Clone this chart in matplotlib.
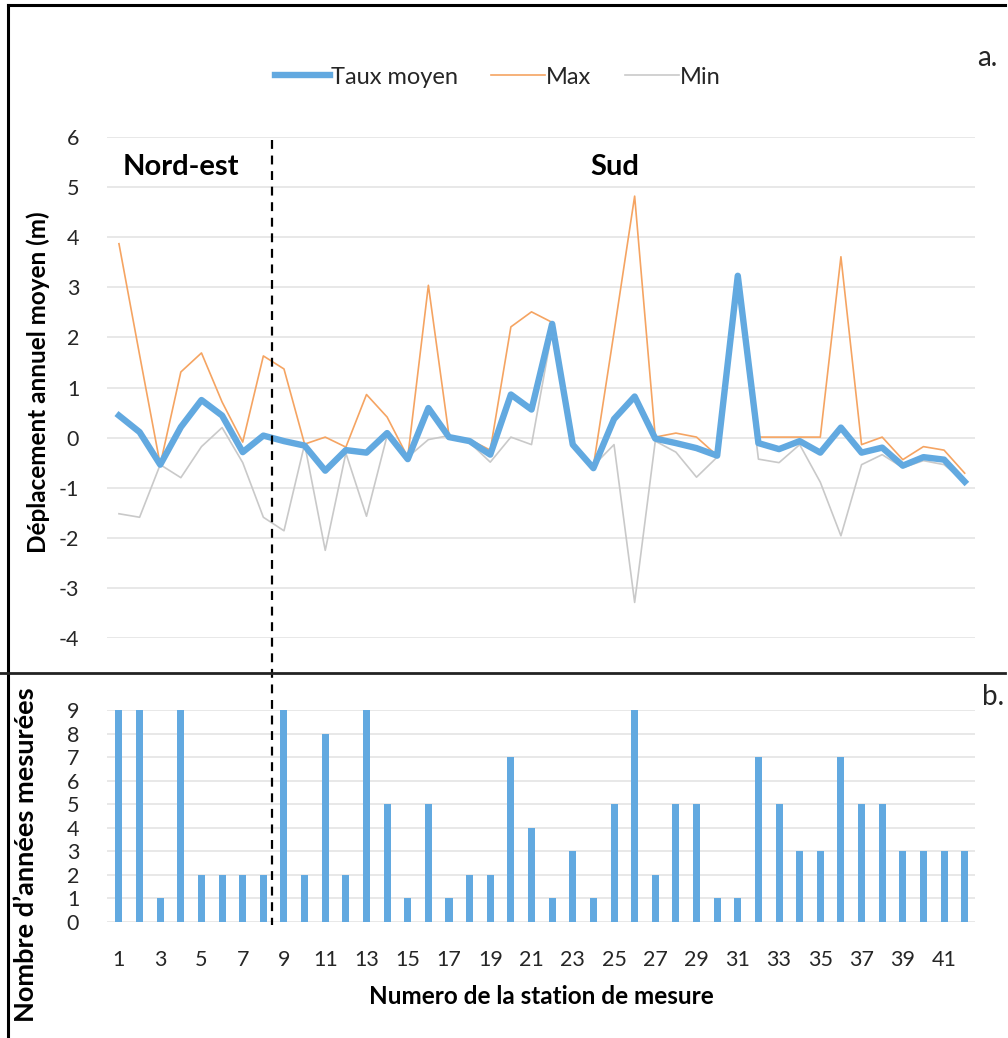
import numpy as np
import matplotlib
matplotlib.use("Agg")
import matplotlib.pyplot as plt
from matplotlib.lines import Line2D
import matplotlib.transforms as mtransforms

plt.rcParams['font.family'] = ['Lato', 'DejaVu Sans']
plt.rcParams['axes.unicode_minus'] = False

# station numbers
stations = np.arange(1, 43)

# mean annual displacement (m)
taux_moyen = [0.44, 0.11, -0.54, 0.21, 0.75, 0.44, -0.29, 0.04, -0.07, -0.16,
              -0.66, -0.25, -0.30, 0.09, -0.43, 0.59, 0.01, -0.07, -0.34, 0.86,
              0.56, 2.27, -0.14, -0.61, 0.37, 0.82, -0.02, -0.11, -0.21, -0.36,
              3.23, -0.11, -0.23, -0.07, -0.30, 0.20, -0.30, -0.20, -0.56, -0.39,
              -0.44, -0.88]
val_max = [3.87, 1.65, -0.54, 1.31, 1.69, 0.71, -0.09, 1.63, 1.37, -0.13,
           0.01, -0.19, 0.86, 0.41, -0.39, 3.04, 0.04, -0.04, -0.25, 2.21,
           2.51, 2.30, -0.11, -0.57, 2.10, 4.82, 0.01, 0.09, 0.01, -0.36,
           3.23, 0.01, 0.01, 0.01, 0.01, 3.61, -0.14, 0.01, -0.44, -0.18,
           -0.25, -0.71]
val_min = [-1.52, -1.59, -0.54, -0.80, -0.18, 0.20, -0.50, -1.59, -1.86, -0.13,
           -2.25, -0.31, -1.57, 0.04, -0.39, -0.04, 0.04, -0.10, -0.49, 0.01,
           -0.14, 2.14, -0.18, -0.56, -0.14, -3.29, -0.07, -0.29, -0.79, -0.39,
           3.00, -0.43, -0.50, -0.14, -0.89, -1.96, -0.54, -0.34, -0.60, -0.46,
           -0.54, -0.88]

# number of years measured
nb_annees = [9, 9, 1, 9, 2, 2, 2, 2, 9, 2, 8, 2, 9, 5, 1, 5, 1, 2, 2, 7,
             4, 1, 3, 1, 5, 9, 2, 5, 5, 1, 1, 7, 5, 3, 3, 7, 5, 5, 3, 3,
             3, 3]

xticks_lbl = np.arange(1, 42, 2)
limite_zone = 8.43

W, H = 1008, 1038
fig = plt.figure(figsize=(W / 100, H / 100), dpi=100)

blue = '#62a9e0'
orange = '#f5a462'
grey = '#c9c9c9'
gridc = '#e4e4e4'
txtc = '#262626'

# ---- top panel
ax1 = fig.add_axes([107 / W, 1 - 638 / H, 868 / W, (638 - 137) / H])
ax1.plot(stations, val_max, color=orange, lw=1.2, label='Max', zorder=3)
ax1.plot(stations, val_min, color=grey, lw=1.2, label='Min', zorder=2)
ax1.plot(stations, taux_moyen, color=blue, lw=4.6, label='Taux moyen',
         solid_joinstyle='round', zorder=4)
ax1.set_xlim(0.42, 42.5)
ax1.set_ylim(-4, 6)
ax1.set_yticks(np.arange(-4, 7, 1))
ax1.set_xticks([])
ax1.yaxis.grid(True, color=gridc, lw=1.2)
ax1.set_axisbelow(True)
for s in ax1.spines.values():
    s.set_visible(False)
ax1.tick_params(axis='y', length=0, labelsize=15.5, pad=20, labelcolor=txtc)
ax1.set_ylabel('Déplacement annuel moyen (m)', fontsize=17.5, fontweight='bold')
ax1.yaxis.set_label_coords(-0.066, 0.51)
ax1.text(1.2, 5.4, 'Nord-est', fontsize=21, fontweight='bold', va='center')
ax1.text(25.05, 5.4, 'Sud', fontsize=21, fontweight='bold', va='center',
         ha='center')

# ---- bottom panel
ax2 = fig.add_axes([107 / W, 1 - 922 / H, 868 / W, (922 - 710) / H])
ax2.bar(stations, nb_annees, width=0.34, color=blue, zorder=3)
ax2.set_xlim(0.42, 42.5)
ax2.set_ylim(0, 9)
ax2.set_yticks(np.arange(0, 10, 1))
ax2.set_xticks(xticks_lbl)
ax2.yaxis.grid(True, color=gridc, lw=1.2)
ax2.set_axisbelow(True)
for s in ax2.spines.values():
    s.set_visible(False)
ax2.tick_params(axis='y', length=0, labelsize=15.5, pad=20, labelcolor=txtc)
ax2.tick_params(axis='x', length=0, labelsize=15.5, pad=20, labelcolor=txtc)
ax2.set_xlabel('Numero de la station de mesure', fontsize=17.5,
               fontweight='bold', labelpad=11)
ax2.set_ylabel('Nombre d\u2019années mesurées', fontsize=19.5, fontweight='bold')
ax2.yaxis.set_label_coords(-0.079, 0.316)

# dashed separation between zones, crossing both panels
tr = mtransforms.blended_transform_factory(ax1.transData, fig.transFigure)
fig.add_artist(Line2D([limite_zone, limite_zone], [1 - 140 / H, 1 - 925 / H],
                      transform=tr, color='black', lw=1.6, ls=(0, (4, 3))))

# frame lines
fig.add_artist(Line2D([8 / W, 8 / W], [0, 1 - 5 / H], transform=fig.transFigure,
                      color='black', lw=2.2))
fig.add_artist(Line2D([8 / W, 1005 / W], [1 - 5 / H, 1 - 5 / H],
                      transform=fig.transFigure, color='black', lw=2.2))
fig.add_artist(Line2D([0, 1005 / W], [1 - 673 / H, 1 - 673 / H],
                      transform=fig.transFigure, color='#222222', lw=2.0))

fig.text(987 / W, 1 - 58 / H, 'a.', fontsize=20, ha='center', va='center',
         color=txtc)
fig.text(993 / W, 1 - 697 / H, 'b.', fontsize=20, ha='center', va='center',
         color=txtc)

# legend
h, l = ax1.get_legend_handles_labels()
order = [2, 0, 1]
fig.legend([h[i] for i in order], [l[i] for i in order], loc='center',
           bbox_to_anchor=(498 / W, 1 - 77 / H), ncol=3, frameon=False,
           fontsize=17, handlelength=2.3, handletextpad=0.05,
           columnspacing=1.4, labelcolor=txtc)

fig.savefig('out.png', dpi=100, facecolor='white')
